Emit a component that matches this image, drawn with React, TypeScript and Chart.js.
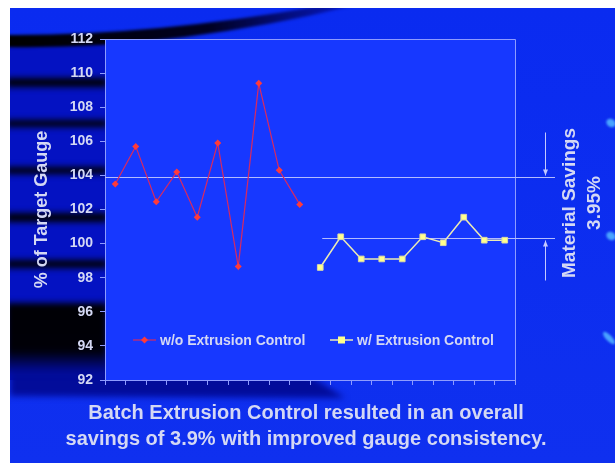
import React, { useEffect, useRef } from "react";
import { Chart, registerables } from "chart.js";

Chart.register(...registerables);

// ---------- data ----------
const batchLabels = ["1", "2", "3", "4", "5", "6", "7", "8", "9", "10", "11", "12", "13", "14", "15", "16", "17", "18", "19", "20"];
const seriesNames = ["w/o Extrusion Control", "w/ Extrusion Control"];
const withoutControl: (number | null)[] = [103.5, 105.7, 102.45, 104.2, 101.55, 105.9, 98.65, 109.4, 104.3, 102.3, null, null, null, null, null, null, null, null, null, null];
const withControl: (number | null)[] = [null, null, null, null, null, null, null, null, null, null, 98.6, 100.4, 99.1, 99.1, 99.1, 100.4, 100.05, 101.55, 100.2, 100.2];
const yMin = 92;
const yMax = 112;
const yStep = 2;
const yAxisTitle = "% of Target Gauge";
const averageLevels = [103.9, 100.3];
const savingsText = ["Material Savings", "3.95%"];
const captionLines = [
  "Batch Extrusion Control resulted in an overall",
  "savings of 3.9% with improved gauge consistency.",
];

// ---------- styles ----------
const FONT = '"Liberation Sans", Arial, Helvetica, sans-serif';
const TEXT = "#d4d8f4";
const AXIS = "#8e9cff";
const RED_LINE = "#d82a60";
const RED_POINT = "#ff3a3a";
const YEL_LINE = "#ecebb4";
const YEL_POINT = "#ffff8c";

const backdrop = {
  id: "backdrop",
  beforeDraw(chart: any) {
    const { ctx, width, height, chartArea: ca } = chart;
    const sx = 10;
    const sy = 8;
    ctx.save();
    ctx.fillStyle = "#ffffff";
    ctx.fillRect(0, 0, width, height);
    const g = ctx.createLinearGradient(0, sy, 0, height);
    g.addColorStop(0, "#0a2bf0");
    g.addColorStop(1, "#0f30ef");
    ctx.fillStyle = g;
    ctx.fillRect(sx, sy, width - sx, height - sy);

    // left column
    ctx.fillStyle = "#0412c2";
    ctx.fillRect(sx, 40, ca.left - sx + 2, ca.bottom - 40);

    // dark band under the plot (bottom left)
    ctx.filter = "blur(3px)";
    ctx.fillStyle = "#020c9a";
    ctx.beginPath();
    ctx.moveTo(sx, ca.bottom - 20);
    ctx.lineTo(ca.left + 180, ca.bottom - 20);
    ctx.lineTo(ca.left + 240, ca.bottom + 18);
    ctx.lineTo(sx, ca.bottom + 16);
    ctx.closePath();
    ctx.fill();

    // black stripes on the left
    ctx.fillStyle = "#000006";
    const stripes = [
      [78, 87],
      [120, 127],
      [167, 174],
      [213, 222],
      [260, 268],
    ];
    stripes.forEach(([a, b]) => ctx.fillRect(sx - 4, a, ca.left - sx + 6, b - a));
    const bg = ctx.createLinearGradient(0, 300, 0, 372);
    bg.addColorStop(0, "#000004");
    bg.addColorStop(0.7, "#000008");
    bg.addColorStop(1, "#020c9a");
    ctx.fillStyle = bg;
    ctx.fillRect(sx - 4, 303, ca.left - sx + 6, 70);

    // swoosh at the top
    ctx.filter = "blur(1.5px)";
    const sg = ctx.createLinearGradient(sx, 0, 340, 0);
    sg.addColorStop(0, "#000000");
    sg.addColorStop(0.6, "#000020");
    sg.addColorStop(1, "#0616b8");
    ctx.fillStyle = sg;
    ctx.beginPath();
    ctx.moveTo(sx - 4, 35);
    ctx.quadraticCurveTo(150, 36, 320, 6);
    ctx.lineTo(352, 6);
    ctx.quadraticCurveTo(170, 50, sx - 4, 47);
    ctx.closePath();
    ctx.fill();

    // light blobs on the right edge
    ctx.filter = "blur(1px)";
    ctx.fillStyle = "#4aa4ff";
    const blobs = [
      [611, 123, 5, 4, 0.6],
      [611, 236, 5, 4, 0.6],
      [609, 338, 8, 3, 0.8],
    ];
    blobs.forEach(([x, y, rx, ry, r]) => {
      ctx.beginPath();
      ctx.ellipse(x, y, rx, ry, r, 0, Math.PI * 2);
      ctx.fill();
    });
    ctx.filter = "none";

    // white margins
    ctx.fillStyle = "#ffffff";
    ctx.fillRect(0, 0, width, sy);
    ctx.fillRect(0, 0, sx, height);

    // plot area
    ctx.fillStyle = "#1738ff";
    ctx.fillRect(ca.left, ca.top, ca.width, ca.height);
    ctx.strokeStyle = AXIS;
    ctx.lineWidth = 1;
    ctx.beginPath();
    ctx.moveTo(ca.left, ca.top + 0.5);
    ctx.lineTo(ca.right + 0.5, ca.top + 0.5);
    ctx.lineTo(ca.right + 0.5, ca.bottom);
    ctx.stroke();
    ctx.restore();
  },
  beforeDatasetsDraw(chart: any) {
    const { ctx, chartArea: ca, scales } = chart;
    const y = scales.y;
    const x = scales.x;
    ctx.save();
    ctx.strokeStyle = "#b4bcff";
    ctx.lineWidth = 1;
    const yUp = Math.round(y.getPixelForValue(averageLevels[0])) + 0.5;
    const yLo = Math.round(y.getPixelForValue(averageLevels[1])) + 0.5;
    const endX = ca.right + 40;
    ctx.beginPath();
    ctx.moveTo(ca.left, yUp);
    ctx.lineTo(endX, yUp);
    ctx.moveTo(x.getPixelForValue(10) + 2, yLo);
    ctx.lineTo(endX, yLo);
    ctx.stroke();
    ctx.restore();
  },
  afterDraw(chart: any) {
    const { ctx, chartArea: ca, scales } = chart;
    const y = scales.y;
    const yUp = Math.round(y.getPixelForValue(averageLevels[0])) + 0.5;
    const yLo = Math.round(y.getPixelForValue(averageLevels[1])) + 0.5;
    ctx.save();

    // arrows
    const ax = ca.right + 30.5;
    ctx.strokeStyle = "#c4caff";
    ctx.fillStyle = "#c4caff";
    ctx.lineWidth = 1;
    const arrow = (from: number, tip: number) => {
      const dir = Math.sign(tip - from);
      ctx.beginPath();
      ctx.moveTo(ax, from);
      ctx.lineTo(ax, tip);
      ctx.stroke();
      ctx.beginPath();
      ctx.moveTo(ax, tip);
      ctx.lineTo(ax - 2.5, tip - dir * 6);
      ctx.lineTo(ax + 2.5, tip - dir * 6);
      ctx.closePath();
      ctx.fill();
    };
    arrow(yUp - 45, yUp - 2);
    arrow(yLo + 42, yLo + 2);

    // savings label (rotated)
    ctx.fillStyle = TEXT;
    ctx.font = `bold 19px ${FONT}`;
    ctx.textAlign = "center";
    ctx.textBaseline = "middle";
    ctx.save();
    ctx.translate(ca.right + 55, (yUp + yLo) / 2 - 5);
    ctx.rotate(-Math.PI / 2);
    ctx.fillText(savingsText[0], 0, 0);
    ctx.fillText(savingsText[1], 0, 25);
    ctx.restore();

    // legend inside the plot
    const ly = ca.bottom - 40;
    ctx.font = `bold 14px ${FONT}`;
    ctx.textAlign = "left";
    const items = [
      { x: ca.left + 28, ds: chart.data.datasets[0], shape: "diamond" },
      { x: ca.left + 225, ds: chart.data.datasets[1], shape: "square" },
    ];
    items.forEach((it) => {
      ctx.strokeStyle = it.ds.borderColor;
      ctx.lineWidth = it.ds.borderWidth;
      ctx.beginPath();
      ctx.moveTo(it.x, ly);
      ctx.lineTo(it.x + 23, ly);
      ctx.stroke();
      const mx = it.x + 11.5;
      ctx.fillStyle = it.ds.pointBackgroundColor;
      if (it.shape === "diamond") {
        ctx.beginPath();
        ctx.moveTo(mx, ly - 3.5);
        ctx.lineTo(mx + 3.5, ly);
        ctx.lineTo(mx, ly + 3.5);
        ctx.lineTo(mx - 3.5, ly);
        ctx.closePath();
        ctx.fill();
      } else {
        ctx.fillRect(mx - 3.5, ly - 3.5, 7, 7);
      }
      ctx.fillStyle = TEXT;
      ctx.fillText(it.ds.label, it.x + 27, ly + 1);
    });

    // caption
    ctx.font = `bold 20px ${FONT}`;
    ctx.textAlign = "center";
    ctx.fillStyle = TEXT;
    ctx.fillText(captionLines[0], 306, 413);
    ctx.fillText(captionLines[1], 306, 439);
    ctx.restore();
  },
};

export default function App() {
  const ref = useRef<HTMLCanvasElement | null>(null);
  useEffect(() => {
    if (!ref.current) return;
    const chart = new Chart(ref.current, {
      type: "line",
      data: {
        labels: batchLabels,
        datasets: [
          {
            label: seriesNames[0],
            data: withoutControl,
            borderColor: RED_LINE,
            borderWidth: 1.2,
            pointStyle: "rectRot",
            pointRadius: 3.5,
            pointBackgroundColor: RED_POINT,
            pointBorderColor: RED_POINT,
            pointBorderWidth: 0,
            tension: 0,
            spanGaps: false,
          },
          {
            label: seriesNames[1],
            data: withControl,
            borderColor: YEL_LINE,
            borderWidth: 1.5,
            pointStyle: "rect",
            pointRadius: 4,
            pointBackgroundColor: YEL_POINT,
            pointBorderColor: "#d8d8a8",
            pointBorderWidth: 1,
            tension: 0,
            spanGaps: false,
          },
        ],
      },
      options: {
        animation: false,
        responsive: false,
        events: [],
        layout: { padding: { top: 39, right: 100, left: 0, bottom: 0 } },
        plugins: {
          legend: { display: false },
          tooltip: { enabled: false },
          title: { display: false },
        },
        scales: {
          x: {
            type: "category",
            offset: true,
            grid: { offset: true, drawOnChartArea: false, drawTicks: true, tickLength: 5, color: AXIS },
            border: { display: true, color: AXIS, width: 1 },
            ticks: { display: false },
            afterFit: (s: any) => {
              s.height = 83;
            },
          },
          y: {
            min: yMin,
            max: yMax,
            grid: { drawOnChartArea: false, drawTicks: true, tickLength: 5, color: AXIS },
            border: { display: true, color: AXIS, width: 1 },
            ticks: {
              stepSize: yStep,
              color: TEXT,
              padding: 7,
              font: { family: FONT, size: 14, weight: "bold" },
            },
            title: {
              display: true,
              text: yAxisTitle,
              color: TEXT,
              font: { family: FONT, size: 18, weight: "bold" },
              padding: { top: 31, bottom: 0 },
            },
            afterFit: (s: any) => {
              s.width = 105;
            },
          },
        },
      },
      plugins: [backdrop],
    } as any);
    return () => chart.destroy();
  }, []);
  return (
    <div style={{ position: "fixed", left: 0, top: 0, width: 615, height: 463 }}>
      <canvas ref={ref} width={615} height={463} style={{ display: "block", width: 615, height: 463 }} />
    </div>
  );
}
